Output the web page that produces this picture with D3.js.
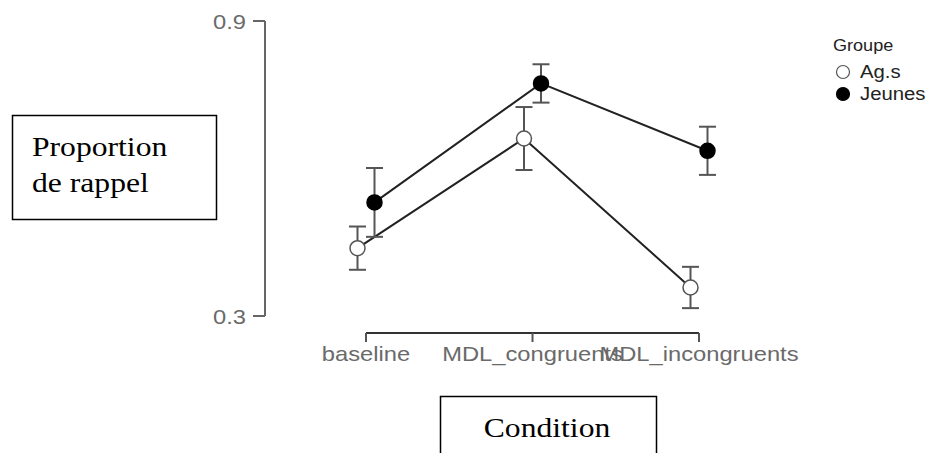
<!DOCTYPE html>
<head>
  <meta charset="utf-8">
  <script src="https://d3js.org/d3.v7.min.js"></script>
  <style>
    body { margin:0; background:white; }
    svg { display:block; }
    .tick-label { font-family: "Liberation Sans", Arial, sans-serif; font-size:21px; fill:#6a6a6a; }
    .boxtext { font-family: "Liberation Serif", "Times New Roman", serif; font-size:28px; fill:#000; }
    .legend { font-family: "Liberation Sans", Arial, sans-serif; font-size:18px; fill:#222; }
    .legend-title { font-family: "Liberation Sans", Arial, sans-serif; font-size:16px; fill:#222; }
  </style>
</head>
<body>
  <script>
    // chart values
    var conditions = ["baseline", "MDL_congruents", "MDL_incongruents"];
    var groups = ["Ag.s", "Jeunes"];
    var agesMean = [0.438, 0.661, 0.358];
    var agesErr = [0.044, 0.064, 0.042];
    var jeunesMean = [0.531, 0.773, 0.636];
    var jeunesErr = [0.070, 0.039, 0.049];
    var yTicks = [0.3, 0.9];

    var width = 930, height = 453;
    var stretch = 1.13; // the source image is a bit wider than tall

    var series = [
      {name: groups[0], mean: agesMean, err: agesErr, fill: "white", stroke: "#555", dodge: -8.5},
      {name: groups[1], mean: jeunesMean, err: jeunesErr, fill: "black", stroke: "black", dodge: 8.5}
    ];

    var svg = d3.select("body").append("svg")
        .attr("width", width)
        .attr("height", height);

    // text placed at (tx, ty) and widened like the source
    function label(parent, cls, tx, ty, anchor, str) {
      return parent.append("text")
        .attr("class", cls)
        .attr("transform", "translate(" + tx + "," + ty + ") scale(" + stretch + ",1)")
        .attr("text-anchor", anchor)
        .text(str);
    }

    var x = d3.scalePoint().domain(conditions).range([366, 699]);
    var y = d3.scaleLinear().domain([0.3, 0.9]).range([316, 21]);

    // y axis (line only spans the tick range)
    var yAxis = svg.append("g").attr("transform", "translate(265,0)");
    yAxis.append("line")
      .attr("y1", y(0.9)).attr("y2", y(0.3))
      .attr("stroke", "#666").attr("stroke-width", 2);
    yAxis.selectAll(".yt").data(yTicks).enter().append("line")
      .attr("x1", -12).attr("x2", 0)
      .attr("y1", function(d) { return y(d); })
      .attr("y2", function(d) { return y(d); })
      .attr("stroke", "#666").attr("stroke-width", 2);
    yTicks.forEach(function(d) {
      label(yAxis, "tick-label", -19, y(d) + 7.5, "end", d3.format(".1f")(d));
    });

    // x axis
    var xAxis = svg.append("g").attr("transform", "translate(0,333)");
    xAxis.append("line")
      .attr("x1", x(conditions[0])).attr("x2", x(conditions[2]))
      .attr("stroke", "#333").attr("stroke-width", 2);
    xAxis.selectAll(".xt").data(conditions).enter().append("line")
      .attr("x1", function(d) { return x(d); })
      .attr("x2", function(d) { return x(d); })
      .attr("y1", 0).attr("y2", 9)
      .attr("stroke", "#555").attr("stroke-width", 2);
    conditions.forEach(function(c) {
      label(xAxis, "tick-label", x(c), 28, "middle", c);
    });

    // lines
    var line = d3.line()
      .x(function(d) { return d[0]; })
      .y(function(d) { return d[1]; });

    series.forEach(function(s) {
      var pts = conditions.map(function(c, i) { return [x(c) + s.dodge, y(s.mean[i])]; });
      svg.append("path")
        .attr("d", line(pts))
        .attr("fill", "none")
        .attr("stroke", "#222")
        .attr("stroke-width", 2);
    });

    // error bars
    series.forEach(function(s) {
      var g = svg.append("g");
      conditions.forEach(function(c, i) {
        var cx = x(c) + s.dodge;
        var top = y(s.mean[i] + s.err[i]), bot = y(s.mean[i] - s.err[i]);
        g.append("line").attr("x1", cx).attr("x2", cx).attr("y1", top).attr("y2", bot)
          .attr("stroke", "#555").attr("stroke-width", 2);
        [top, bot].forEach(function(yy) {
          g.append("line").attr("x1", cx - 8.5).attr("x2", cx + 8.5).attr("y1", yy).attr("y2", yy)
            .attr("stroke", "#555").attr("stroke-width", 2);
        });
      });
    });

    // points
    series.forEach(function(s) {
      svg.append("g").selectAll("circle")
        .data(conditions)
        .enter().append("circle")
          .attr("cx", function(c) { return x(c) + s.dodge; })
          .attr("cy", function(c, i) { return y(s.mean[i]); })
          .attr("r", 7.5)
          .attr("fill", s.fill)
          .attr("stroke", s.stroke)
          .attr("stroke-width", 1.5);
    });

    // legend
    var legend = svg.append("g");
    label(legend, "legend-title", 833, 51, "start", "Groupe");
    series.forEach(function(s, i) {
      legend.append("circle")
        .attr("cx", 843).attr("cy", 72 + i * 22)
        .attr("r", 6.5)
        .attr("fill", s.fill)
        .attr("stroke", s.stroke)
        .attr("stroke-width", 1.2);
      label(legend, "legend", 860, 78 + i * 22, "start", s.name);
    });

    // boxed axis titles
    svg.append("rect")
      .attr("x", 12.5).attr("y", 115.5).attr("width", 204).attr("height", 104)
      .attr("fill", "white").attr("stroke", "black").attr("stroke-width", 1.5);
    label(svg, "boxtext", 32, 156, "start", "Proportion");
    label(svg, "boxtext", 32, 192, "start", "de rappel");

    svg.append("rect")
      .attr("x", 440.5).attr("y", 396.5).attr("width", 216).attr("height", 70)
      .attr("fill", "white").attr("stroke", "black").attr("stroke-width", 1.5);
    label(svg, "boxtext", 547, 437, "middle", "Condition");
  </script>
</body>
